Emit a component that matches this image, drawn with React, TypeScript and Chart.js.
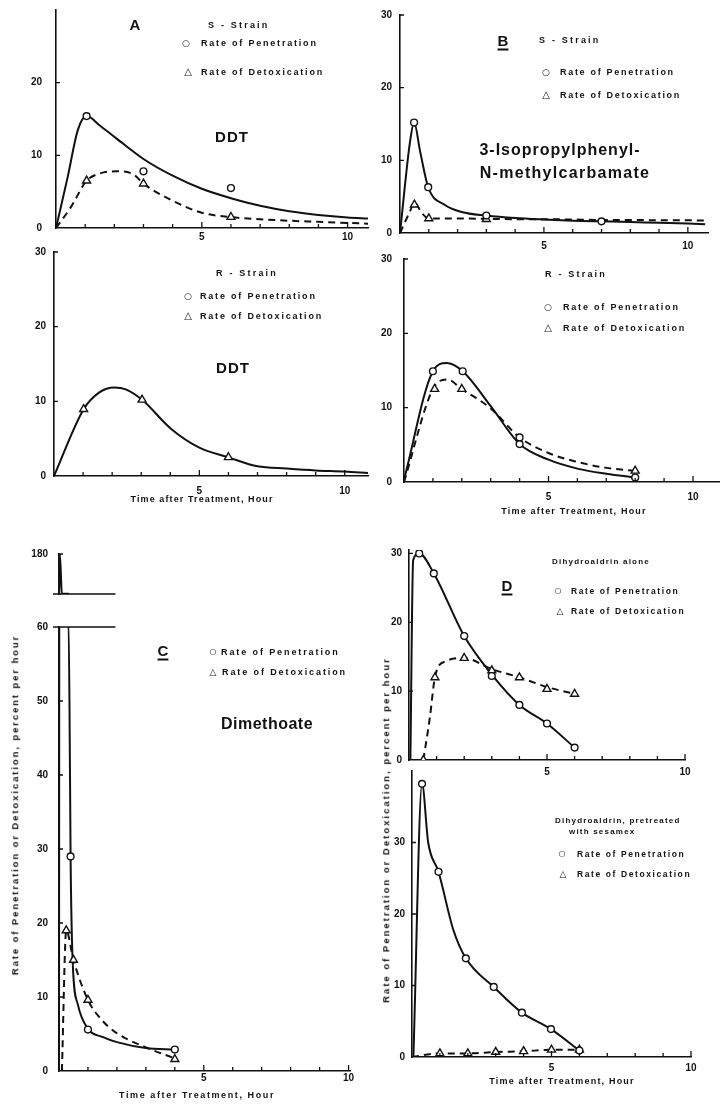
import React, { useEffect, useRef } from "react";
import { Chart, registerables } from "chart.js";

Chart.register(...registerables);

// ---------------- DATA ----------------
// Panel A, S-strain, DDT
const aSPenCurveX = [0, 0.4, 0.75, 1.05, 1.5, 2.08, 3, 4, 5, 6, 7, 8, 9, 10, 10.7];
const aSPenCurveY = [0, 7, 13.5, 15.4, 14.1, 12.3, 9.5, 7.2, 5.4, 4.1, 3.05, 2.3, 1.8, 1.45, 1.3];
const aSPenPtsX = [1.05, 3, 6];
const aSPenPtsY = [15.4, 7.8, 5.5];
const aSDetCurveX = [0, 0.5, 1.05, 1.5, 2.08, 2.65, 3, 4, 5, 6, 7, 8, 9, 10, 10.7];
const aSDetCurveY = [0, 2.8, 6.5, 7.5, 7.8, 7.4, 6.1, 3.75, 2.1, 1.5, 1.2, 1.0, 0.85, 0.7, 0.6];
const aSDetPtsX = [1.05, 3, 6];
const aSDetPtsY = [6.5, 6.1, 1.5];

// Panel A, R-strain, DDT
const aRDetCurveX = [0, 1.02, 1.56, 2.07, 2.47, 3.03, 4.03, 5, 6, 7, 8, 9, 10, 10.8];
const aRDetCurveY = [0, 8.95, 11.2, 11.85, 11.6, 10.2, 6.3, 3.8, 2.5, 1.3, 1.0, 0.75, 0.6, 0.4];
const aRDetPtsX = [1.02, 3.03, 6];
const aRDetPtsY = [8.95, 10.2, 2.5];

// Panel B, S-strain, 3-isopropylphenyl-N-methylcarbamate
const bSPenCurveX = [0, 0.35, 0.49, 0.7, 0.98, 1.56, 2.14, 3, 4, 5, 6, 7, 8, 9, 10, 10.6];
const bSPenCurveY = [0, 12.6, 15.2, 11.2, 6.3, 3.85, 2.9, 2.4, 2.05, 1.85, 1.7, 1.6, 1.5, 1.4, 1.3, 1.2];
const bSPenPtsX = [0.49, 0.98, 3, 7];
const bSPenPtsY = [15.2, 6.3, 2.4, 1.6];
const bSDetCurveX = [0, 0.35, 0.5, 0.75, 1, 2, 3, 4, 5, 6, 7, 8, 9, 10, 10.6];
const bSDetCurveY = [0, 3.0, 4.2, 2.8, 2.0, 2.0, 1.95, 1.9, 1.9, 1.85, 1.8, 1.8, 1.75, 1.75, 1.7];
const bSDetPtsX = [0.5, 1, 3];
const bSDetPtsY = [3.9, 2.0, 1.9];

// Panel B, R-strain
const bRPenCurveX = [0, 1, 1.47, 2.03, 3.02, 4, 5, 6, 7, 8];
const bRPenCurveY = [0.3, 14.9, 16.0, 14.9, 10.1, 5.1, 3.0, 1.8, 1.1, 0.6];
const bRPenPtsX = [1, 2.03, 4, 8];
const bRPenPtsY = [14.9, 14.9, 5.1, 0.6];
const bRDetCurveX = [0, 1, 1.5, 2, 3, 4, 5, 6, 7, 8];
const bRDetCurveY = [0, 12.5, 13.8, 12.5, 9.9, 6.0, 3.9, 2.7, 1.9, 1.5];
const bRDetPtsX = [1.06, 2, 4, 8];
const bRDetPtsY = [12.5, 12.5, 6.0, 1.5];
const bRDetPtsStyle = ["triangle", "triangle", "circle", "triangle"];

// Panel C, Dimethoate (broken y axis 60 / 180)
const cPenCurveX = [0, 0.03, 0.1, 0.33, 0.38, 0.4, 0.47, 0.65, 1, 1.5, 2, 3, 4];
const cPenCurveY = [0, 180, 60.5, 60.5, 40, 29, 15, 9, 5.7, 4.6, 3.9, 3.1, 2.9];
const cPenPtsX = [0.4, 1, 4];
const cPenPtsY = [29, 5.6, 2.9];
const cDetCurveX = [0.1, 0.25, 0.5, 1, 1.5, 2, 3, 4];
const cDetCurveY = [0, 19, 15, 9.6, 6.8, 5.1, 3.2, 1.7];
const cDetPtsX = [0.25, 0.5, 1, 4];
const cDetPtsY = [19, 15, 9.6, 1.6];

// Panel D, dihydroaldrin alone
const dAPenCurveX = [0.05, 0.15, 0.37, 0.9, 2, 3, 4, 5, 6];
const dAPenCurveY = [0, 29, 30, 27.1, 18, 12.4, 8, 5.3, 1.8];
const dAPenPtsX = [0.37, 0.9, 2, 3, 4, 5, 6];
const dAPenPtsY = [30, 27.1, 18, 12.2, 8, 5.3, 1.8];
const dADetCurveX = [0.52, 0.75, 0.94, 1.3, 2, 3, 4, 5, 6];
const dADetCurveY = [0, 6, 12, 14.3, 14.8, 13.2, 12, 10.6, 9.6];
const dADetPtsX = [0.52, 0.94, 2, 3, 4, 5, 6];
const dADetPtsY = [0, 12, 14.8, 13, 12, 10.3, 9.6];

// Panel D, dihydroaldrin pretreated with sesamex
const dSPenCurveX = [0.05, 0.36, 0.58, 0.95, 1.48, 1.93, 2.93, 3.94, 4.98, 6];
const dSPenCurveY = [0, 38.2, 30, 25.9, 17.8, 13.8, 9.8, 6.2, 3.9, 0.9];
const dSPenPtsX = [0.36, 0.95, 1.93, 2.93, 3.94, 4.98, 6];
const dSPenPtsY = [38.2, 25.9, 13.8, 9.8, 6.2, 3.9, 0.9];
const dSDetCurveX = [0, 1, 2, 3, 4, 5, 6];
const dSDetCurveY = [0, 0.5, 0.5, 0.7, 0.8, 1.0, 1.0];
const dSDetPtsX = [1, 2, 3, 4, 5, 6];
const dSDetPtsY = [0.5, 0.5, 0.7, 0.8, 1.0, 1.0];

// Axis tick labels
const xTickLabels = [5, 10];
const yTicks30 = [0, 10, 20, 30];
const yTicks20 = [0, 10, 20];
const yTicksC = [0, 10, 20, 30, 40, 50, 60];
const yTicksCTop = [180];

// ---------------- LAYOUT / STYLE ----------------
const INK = "#111";
const WY = 44;
const HX = 26;
const PT = 26;
const PB = 26;
const PR = 26;

type Series = {
  cx: number[];
  cy: number[];
  px?: number[];
  py?: number[];
  dashed?: boolean;
  marker: string | string[];
};

type PanelCfg = {
  L: number; T: number; R: number; B: number;
  xMax: number; yMin: number; yMax: number;
  yTicks: number[];
  showX: boolean;
  xPad: number; yPad: number;
  series: Series[];
  breakEdge?: "top" | "bottom";
  breakToX?: number;
};

const pts = (xs: number[], ys: number[]) => xs.map((x, i) => ({ x, y: ys[i] }));

const panels: PanelCfg[] = [
  {
    L: 56, T: 9.5, R: 368.4, B: 227, xMax: 10.7, yMin: 0, yMax: 30, yTicks: yTicks20,
    showX: true, xPad: 3, yPad: 14,
    series: [
      { cx: aSPenCurveX, cy: aSPenCurveY, px: aSPenPtsX, py: aSPenPtsY, marker: "circle" },
      { cx: aSDetCurveX, cy: aSDetCurveY, px: aSDetPtsX, py: aSDetPtsY, marker: "triangle", dashed: true },
    ],
  },
  {
    L: 54, T: 251.5, R: 368.3, B: 475, xMax: 10.8, yMin: 0, yMax: 30, yTicks: yTicks30,
    showX: true, xPad: 9, yPad: 8,
    series: [
      { cx: aRDetCurveX, cy: aRDetCurveY, px: aRDetPtsX, py: aRDetPtsY, marker: "triangle" },
    ],
  },
  {
    L: 400, T: 15, R: 708, B: 233, xMax: 10.7, yMin: 0, yMax: 30, yTicks: yTicks30,
    showX: true, xPad: 7, yPad: 8,
    series: [
      { cx: bSPenCurveX, cy: bSPenCurveY, px: bSPenPtsX, py: bSPenPtsY, marker: "circle" },
      { cx: bSDetCurveX, cy: bSDetCurveY, px: bSDetPtsX, py: bSDetPtsY, marker: "triangle", dashed: true },
    ],
  },
  {
    L: 404, T: 259, R: 719, B: 482, xMax: 10.9, yMin: 0, yMax: 30, yTicks: yTicks30,
    showX: true, xPad: 9, yPad: 12,
    series: [
      { cx: bRPenCurveX, cy: bRPenCurveY, px: bRPenPtsX, py: bRPenPtsY, marker: "circle" },
      { cx: bRDetCurveX, cy: bRDetCurveY, px: bRDetPtsX, py: bRDetPtsY, marker: bRDetPtsStyle, dashed: true },
    ],
  },
  {
    L: 59, T: 627, R: 349.5, B: 1071, xMax: 10.05, yMin: 0, yMax: 60, yTicks: yTicksC,
    showX: true, xPad: 1, yPad: 11, breakEdge: "top", breakToX: 1.95,
    series: [
      { cx: cPenCurveX, cy: cPenCurveY, px: cPenPtsX, py: cPenPtsY, marker: "circle" },
      { cx: cDetCurveX, cy: cDetCurveY, px: cDetPtsX, py: cDetPtsY, marker: "triangle", dashed: true },
    ],
  },
  {
    L: 59, T: 554, R: 349.5, B: 620, xMax: 10.05, yMin: 60, yMax: 180, yTicks: yTicksCTop,
    showX: false, xPad: 1, yPad: 11, breakEdge: "bottom", breakToX: 1.95,
    series: [
      { cx: cPenCurveX, cy: cPenCurveY, marker: "circle" },
    ],
  },
  {
    L: 409, T: 549.5, R: 685, B: 759, xMax: 10, yMin: 0, yMax: 30.5, yTicks: yTicks30,
    showX: true, xPad: 6, yPad: 7,
    series: [
      { cx: dAPenCurveX, cy: dAPenCurveY, px: dAPenPtsX, py: dAPenPtsY, marker: "circle" },
      { cx: dADetCurveX, cy: dADetCurveY, px: dADetPtsX, py: dADetPtsY, marker: "triangle", dashed: true },
    ],
  },
  {
    L: 412, T: 771, R: 691, B: 1057, xMax: 10, yMin: 0, yMax: 40, yTicks: yTicks30,
    showX: true, xPad: 5, yPad: 7,
    series: [
      { cx: dSPenCurveX, cy: dSPenCurveY, px: dSPenPtsX, py: dSPenPtsY, marker: "circle" },
      { cx: dSDetCurveX, cy: dSDetCurveY, px: dSDetPtsX, py: dSDetPtsY, marker: "triangle", dashed: true },
    ],
  },
];

const makeTickPlugin = (cfg: PanelCfg) => ({
  id: "inTicks",
  afterDraw(chart: any) {
    const { ctx, chartArea: a, scales } = chart;
    const x = scales.x;
    const y = scales.y;
    ctx.save();
    ctx.strokeStyle = INK;
    ctx.lineWidth = 1.3;
    ctx.beginPath();
    if (cfg.showX) {
      for (let i = 1; i <= Math.floor(cfg.xMax + 1e-6); i++) {
        const px = x.getPixelForValue(i);
        const len = i % 5 === 0 ? 6 : 4;
        ctx.moveTo(px, a.bottom);
        ctx.lineTo(px, a.bottom - len);
      }
    }
    cfg.yTicks.forEach((v) => {
      if (v > cfg.yMin) {
        const py = y.getPixelForValue(v);
        ctx.moveTo(a.left, py);
        ctx.lineTo(a.left + 4, py);
      }
    });
    if (cfg.breakEdge) {
      const yy = cfg.breakEdge === "top" ? a.top : a.bottom;
      ctx.moveTo(a.left - 6, yy);
      ctx.lineTo(x.getPixelForValue(cfg.breakToX), yy);
    }
    ctx.stroke();
    ctx.restore();
  },
});

function Panel({ cfg }: { cfg: PanelCfg }) {
  const ref = useRef<HTMLCanvasElement>(null);
  const w = Math.round(cfg.R - cfg.L + WY + PR);
  const h = Math.round(cfg.B - cfg.T + PT + (cfg.showX ? HX : 0) + PB);
  useEffect(() => {
    const datasets: any[] = [];
    cfg.series.forEach((s) => {
      if (s.px && s.py) {
        datasets.push({
          data: pts(s.px, s.py),
          showLine: false,
          pointStyle: s.marker,
          pointRadius: Array.isArray(s.marker)
            ? s.marker.map((m) => (m === "triangle" ? 4.6 : 3.4))
            : s.marker === "triangle" ? 4.6 : 3.4,
          pointBorderWidth: 1.4,
          pointBorderColor: INK,
          pointBackgroundColor: "#fff",
        });
      }
    });
    cfg.series.forEach((s) => {
      datasets.push({
        data: pts(s.cx, s.cy),
        showLine: true,
        borderColor: INK,
        borderWidth: 2,
        borderDash: s.dashed ? [7, 5] : [],
        pointRadius: 0,
        cubicInterpolationMode: "monotone",
        fill: false,
      });
    });
    const tickFont = { family: "Liberation Sans", weight: "bold" as const, size: 10 };
    const chart = new Chart(ref.current as HTMLCanvasElement, {
      type: "line",
      data: { datasets },
      options: {
        responsive: false,
        maintainAspectRatio: false,
        animation: false,
        events: [],
        layout: { padding: { left: 0, top: PT, right: PR, bottom: PB } },
        plugins: { legend: { display: false }, tooltip: { enabled: false } },
        scales: {
          x: {
            type: "linear",
            min: 0,
            max: cfg.xMax,
            display: cfg.showX,
            grid: { display: false, drawTicks: false },
            border: { display: true, color: INK, width: 1.6 },
            afterBuildTicks: (s: any) => {
              s.ticks = xTickLabels.map((v) => ({ value: v }));
            },
            afterFit: (s: any) => {
              s.height = HX;
            },
            ticks: { padding: cfg.xPad, color: INK, font: tickFont, autoSkip: false, maxRotation: 0 },
          },
          y: {
            type: "linear",
            min: cfg.yMin,
            max: cfg.yMax,
            grid: { display: false, drawTicks: false },
            border: { display: true, color: INK, width: 1.6 },
            afterBuildTicks: (s: any) => {
              s.ticks = cfg.yTicks.map((v) => ({ value: v }));
            },
            afterFit: (s: any) => {
              s.width = WY;
            },
            ticks: { padding: cfg.yPad, color: INK, font: tickFont, autoSkip: false },
          },
        },
      } as any,
      plugins: [makeTickPlugin(cfg)],
    });
    return () => chart.destroy();
  }, []);
  return (
    <canvas
      ref={ref}
      width={w}
      height={h}
      style={{ position: "absolute", left: cfg.L - WY, top: cfg.T - PT, width: w, height: h }}
    />
  );
}

type Label = {
  t: string; x: number; y: number; size: number; ls?: number;
  anchor?: "l" | "c"; rot?: boolean; ul?: boolean; sym?: boolean;
};

const PEN = "Rate of Penetration";
const DET = "Rate of Detoxication";
const XT = "Time after Treatment, Hour";
const YT = "Rate of Penetration or Detoxication, percent per hour";

const labels: Label[] = [
  // A top
  { t: "A", x: 135, y: 24, size: 15, anchor: "c" },
  { t: "S - Strain", x: 208, y: 25, size: 9, ls: 2.2 },
  { t: "○", x: 186, y: 43, size: 9, anchor: "c", sym: true },
  { t: PEN, x: 201, y: 43, size: 9, ls: 1.8 },
  { t: "△", x: 188, y: 72, size: 10, anchor: "c", sym: true },
  { t: DET, x: 201, y: 72, size: 9, ls: 1.8 },
  { t: "DDT", x: 232, y: 136, size: 15, ls: 1, anchor: "c" },
  // A bottom
  { t: "R - Strain", x: 216, y: 273, size: 9, ls: 2.2 },
  { t: "○", x: 188, y: 296, size: 9, anchor: "c", sym: true },
  { t: PEN, x: 200, y: 296, size: 9, ls: 1.8 },
  { t: "△", x: 188, y: 316, size: 10, anchor: "c", sym: true },
  { t: DET, x: 200, y: 316, size: 9, ls: 1.8 },
  { t: "DDT", x: 233, y: 367, size: 15, ls: 1, anchor: "c" },
  { t: XT, x: 202, y: 499, size: 9, ls: 1.1, anchor: "c" },
  // B top
  { t: "B", x: 503, y: 40, size: 15, anchor: "c", ul: true },
  { t: "S - Strain", x: 539, y: 40, size: 9, ls: 2.2 },
  { t: "○", x: 546, y: 72, size: 9, anchor: "c", sym: true },
  { t: PEN, x: 560, y: 72, size: 9, ls: 1.7 },
  { t: "△", x: 546, y: 95, size: 10, anchor: "c", sym: true },
  { t: DET, x: 560, y: 95, size: 9, ls: 1.7 },
  { t: "3-Isopropylphenyl-", x: 560, y: 150, size: 16, ls: 1, anchor: "c" },
  { t: "N-methylcarbamate", x: 565, y: 173, size: 16, ls: 1.3, anchor: "c" },
  // B bottom
  { t: "R - Strain", x: 545, y: 274, size: 9, ls: 2.2 },
  { t: "○", x: 548, y: 307, size: 9, anchor: "c", sym: true },
  { t: PEN, x: 563, y: 307, size: 9, ls: 1.8 },
  { t: "△", x: 548, y: 328, size: 10, anchor: "c", sym: true },
  { t: DET, x: 563, y: 328, size: 9, ls: 1.8 },
  { t: XT, x: 574, y: 511, size: 9, ls: 1.2, anchor: "c" },
  // C
  { t: "C", x: 163, y: 650, size: 15, anchor: "c", ul: true },
  { t: "○", x: 213, y: 652, size: 8, anchor: "c", sym: true },
  { t: PEN, x: 221, y: 652, size: 9, ls: 1.9 },
  { t: "△", x: 213, y: 672, size: 9, anchor: "c", sym: true },
  { t: DET, x: 222, y: 672, size: 9, ls: 1.9 },
  { t: "Dimethoate", x: 267, y: 724, size: 16, ls: 0.5, anchor: "c" },
  { t: XT, x: 197, y: 1095, size: 9, ls: 1.6, anchor: "c" },
  { t: YT, x: 15, y: 805, size: 9.5, ls: 1.9, anchor: "c", rot: true },
  // D top
  { t: "D", x: 507, y: 585, size: 15, anchor: "c", ul: true },
  { t: "Dihydroaldrin alone", x: 552, y: 562, size: 8, ls: 1.2 },
  { t: "○", x: 558, y: 591, size: 8, anchor: "c", sym: true },
  { t: PEN, x: 571, y: 591, size: 8.5, ls: 1.6 },
  { t: "△", x: 560, y: 611, size: 9, anchor: "c", sym: true },
  { t: DET, x: 571, y: 611, size: 8.5, ls: 1.6 },
  // D bottom
  { t: "Dihydroaldrin, pretreated", x: 555, y: 821, size: 8, ls: 1.2 },
  { t: "with sesamex", x: 569, y: 832, size: 8, ls: 1.2 },
  { t: "○", x: 562, y: 854, size: 8, anchor: "c", sym: true },
  { t: PEN, x: 577, y: 854, size: 8.5, ls: 1.6 },
  { t: "△", x: 563, y: 874, size: 9, anchor: "c", sym: true },
  { t: DET, x: 577, y: 874, size: 8.5, ls: 1.6 },
  { t: XT, x: 562, y: 1081, size: 9, ls: 1.2, anchor: "c" },
  { t: YT, x: 386, y: 830, size: 9.5, ls: 2.0, anchor: "c", rot: true },
];

function TextLabel({ l }: { l: Label }) {
  const center = l.anchor === "c";
  let transform = center ? "translate(-50%, -50%)" : "translate(0, -50%)";
  if (l.rot) transform = "translate(-50%, -50%) rotate(-90deg)";
  return (
    <div
      style={{
        position: "absolute",
        left: l.x,
        top: l.y,
        transform,
        whiteSpace: "nowrap",
        fontFamily: l.sym ? "DejaVu Sans" : "Liberation Sans",
        fontWeight: "bold",
        fontSize: l.size,
        letterSpacing: l.ls ? l.ls : 0,
        lineHeight: 1,
        color: INK,
        textDecoration: l.ul ? "underline" : "none",
        textDecorationThickness: l.ul ? "2px" : undefined,
        textUnderlineOffset: l.ul ? "3px" : undefined,
      }}
    >
      {l.t}
    </div>
  );
}

export default function App() {
  return (
    <div
      style={{
        position: "absolute",
        left: 0,
        top: 0,
        width: 725,
        height: 1108,
        background: "#fff",
        overflow: "hidden",
      }}
    >
      {panels.map((p, i) => (
        <Panel key={i} cfg={p} />
      ))}
      {labels.map((l, i) => (
        <TextLabel key={i} l={l} />
      ))}
    </div>
  );
}
